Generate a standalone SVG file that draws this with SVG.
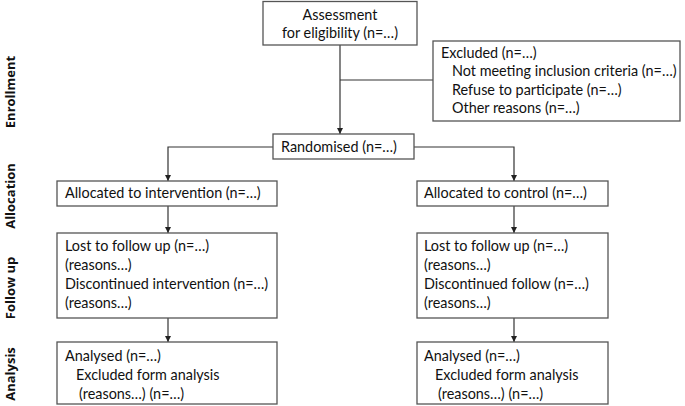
<svg xmlns="http://www.w3.org/2000/svg" width="685" height="406" viewBox="0 0 685 406">
<style>
.box{fill:#fff;stroke:#555;stroke-width:1.3}
.t{font-family:Lato,"Liberation Sans",sans-serif;font-size:14.4px;fill:#111}
.lbl{font-family:"Open Sans","DejaVu Sans",sans-serif;font-size:13px;font-weight:bold;fill:#111}
.ln{fill:none;stroke:#333;stroke-width:1.2}
</style>
<defs>
<marker id="ah" markerWidth="6" markerHeight="6" refX="6" refY="3" orient="auto" markerUnits="userSpaceOnUse">
<path d="M0,0 L6,3 L0,6 z" fill="#222"/>
</marker>
</defs>
<rect width="685" height="406" fill="#fff"/>
<g id="phase-labels">
<text class="lbl" transform="translate(15,92) rotate(-90)" text-anchor="middle">Enrollment</text>
<text class="lbl" transform="translate(15,196) rotate(-90)" text-anchor="middle">Allocation</text>
<text class="lbl" transform="translate(15,288) rotate(-90)" text-anchor="middle">Follow up</text>
<text class="lbl" transform="translate(15,374) rotate(-90)" text-anchor="middle">Analysis</text>
</g>
<g id="connectors">
<path class="ln" d="M340,45 V134" marker-end="url(#ah)"/>
<path class="ln" d="M340,80 H433"/>
<path class="ln" d="M273,147 H168 V181" marker-end="url(#ah)"/>
<path class="ln" d="M414,147 H514 V181" marker-end="url(#ah)"/>
<path class="ln" d="M168,206 V233" marker-end="url(#ah)"/>
<path class="ln" d="M514,206 V233" marker-end="url(#ah)"/>
<path class="ln" d="M168,318 V342" marker-end="url(#ah)"/>
<path class="ln" d="M514,318 V342" marker-end="url(#ah)"/>
</g>
<g id="assessment">
<rect class="box" x="263" y="1.5" width="154" height="43.5"/>
<text class="t" x="340" y="20" text-anchor="middle">Assessment</text>
<text class="t" x="340" y="38" text-anchor="middle">for eligibility (n=…)</text>
</g>
<g id="excluded">
<rect class="box" x="433" y="41" width="247" height="80"/>
<text class="t" x="441" y="58">Excluded (n=…)</text>
<text class="t" x="452" y="76">Not meeting inclusion criteria (n=…)</text>
<text class="t" x="452" y="95">Refuse to participate (n=…)</text>
<text class="t" x="452" y="113">Other reasons (n=…)</text>
</g>
<g id="randomised">
<rect class="box" x="273" y="134" width="141" height="25"/>
<text class="t" x="281" y="152">Randomised (n=…)</text>
</g>
<g id="alloc-intervention">
<rect class="box" x="57" y="181" width="220" height="25"/>
<text class="t" x="65" y="198">Allocated to intervention (n=…)</text>
</g>
<g id="alloc-control">
<rect class="box" x="417" y="181" width="191" height="25"/>
<text class="t" x="424" y="198">Allocated to control (n=…)</text>
</g>
<g id="followup-intervention">
<rect class="box" x="57" y="233" width="220" height="85"/>
<text class="t" x="65" y="251">Lost to follow up (n=…)</text>
<text class="t" x="65" y="270">(reasons…)</text>
<text class="t" x="65" y="289">Discontinued intervention (n=…)</text>
<text class="t" x="65" y="308">(reasons…)</text>
</g>
<g id="followup-control">
<rect class="box" x="417" y="233" width="191" height="85"/>
<text class="t" x="424" y="251">Lost to follow up (n=…)</text>
<text class="t" x="424" y="270">(reasons…)</text>
<text class="t" x="424" y="289">Discontinued follow (n=…)</text>
<text class="t" x="424" y="308">(reasons…)</text>
</g>
<g id="analysis-intervention">
<rect class="box" x="57" y="342" width="220" height="62"/>
<text class="t" x="65" y="361">Analysed (n=…)</text>
<text class="t" x="76" y="380">Excluded form analysis</text>
<text class="t" x="79" y="399">(reasons…) (n=…)</text>
</g>
<g id="analysis-control">
<rect class="box" x="417" y="342" width="191" height="62"/>
<text class="t" x="424" y="361">Analysed (n=…)</text>
<text class="t" x="435" y="380">Excluded form analysis</text>
<text class="t" x="438" y="399">(reasons…) (n=…)</text>
</g>
</svg>
